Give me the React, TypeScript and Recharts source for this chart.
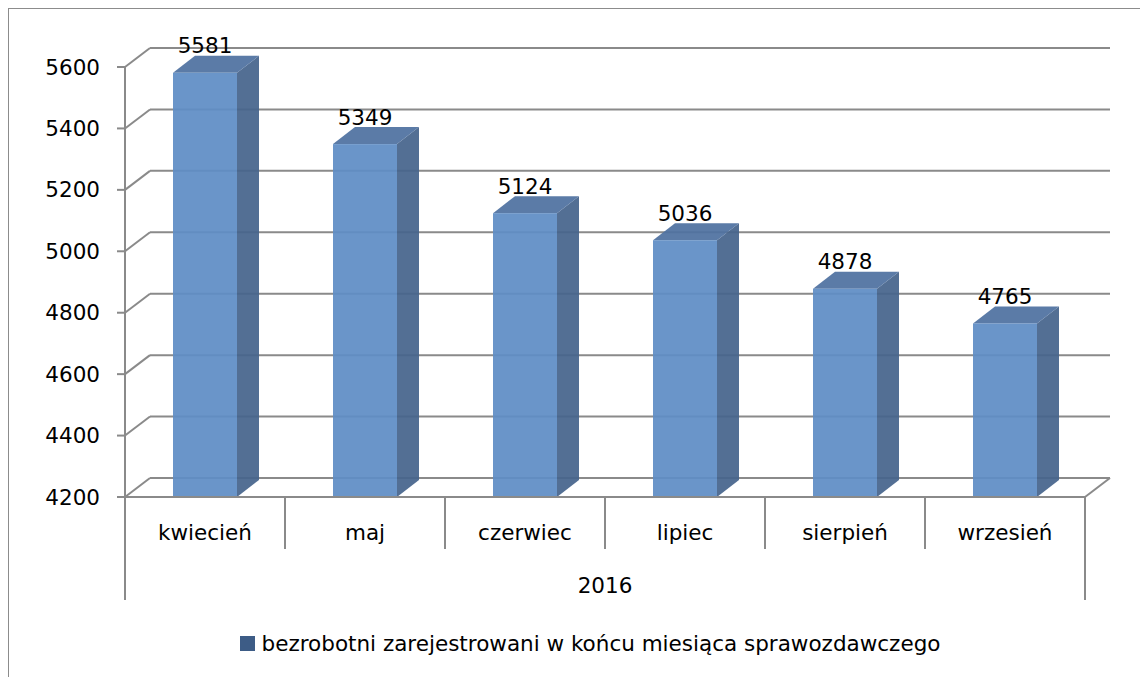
import React from 'react'
import { BarChart, Bar, XAxis, YAxis, CartesianGrid, LabelList, Legend } from 'recharts'

const months = ['kwiecień', 'maj', 'czerwiec', 'lipiec', 'sierpień', 'wrzesień']
const unemployed = [5581, 5349, 5124, 5036, 4878, 4765]
const yearLabel = '2016'
const yTicks = [4200, 4400, 4600, 4800, 5000, 5200, 5400, 5600]
const seriesName = 'bezrobotni zarejestrowani w końcu miesiąca sprawozdawczego'

const data = months.map((month, i) => ({ month, year: yearLabel, value: unemployed[i] }))

const W = 1150
const H = 680
const MARGIN = { top: 58, right: 74, bottom: 31, left: 10 }
const Y_AXIS_W = 106
const PLOT_W = W - MARGIN.left - MARGIN.right - Y_AXIS_W
const BAND = PLOT_W / months.length

// fake 3d depth of the walls and of the columns
const DEPTH_X = 25
const DEPTH_Y = -19
const BAR_DX = 22
const BAR_DY = -17

const GRID = '#8a8a8a'
const FRONT = '#5f8dc5'
const SIDE = '#46648c'
const TOP = '#4f71a0'
const FONT = '"DejaVu Sans", sans-serif'
const FS = 21.5

const gridLine = (p: any) => {
  const { x1, y1, x2, y2, y, height, index } = p
  const isFloor = Math.abs(y1 - (y + height)) < 0.5
  return (
    <g key={`grid-${index}`}>
      <line x1={x1} y1={y1} x2={x1 + DEPTH_X} y2={y1 + DEPTH_Y} stroke={GRID} strokeWidth={2} />
      <line x1={x1 + DEPTH_X} y1={y1 + DEPTH_Y} x2={x2 + DEPTH_X} y2={y2 + DEPTH_Y} stroke={GRID} strokeWidth={2} />
      {isFloor && (
        <line x1={x2} y1={y2} x2={x2 + DEPTH_X} y2={y2 + DEPTH_Y} stroke={GRID} strokeWidth={2} />
      )}
    </g>
  )
}

const Column = (p: any) => {
  const { x, y, width, height } = p
  const r = x + width
  const b = y + height
  return (
    <g fillOpacity={0.93}>
      <polygon
        points={`${r},${y} ${r + BAR_DX},${y + BAR_DY} ${r + BAR_DX},${b + BAR_DY} ${r},${b}`}
        fill={SIDE}
      />
      <polygon
        points={`${x},${y} ${x + BAR_DX},${y + BAR_DY} ${r + BAR_DX},${y + BAR_DY} ${r},${y}`}
        fill={TOP}
      />
      <rect x={x} y={y} width={width} height={height} fill={FRONT} />
    </g>
  )
}

const ValueLabel = (p: any) => {
  const { x, y, width, value } = p
  return (
    <text
      x={x + width / 2}
      y={y - 27}
      textAnchor="middle"
      dominantBaseline="central"
      fontFamily={FONT}
      fontSize={FS}
      fill="#000"
    >
      {value}
    </text>
  )
}

const MonthTick = (p: any) => {
  const { x, y, index, payload } = p
  const left = x - BAND / 2
  const right = x + BAND / 2
  const last = index === months.length - 1
  return (
    <g>
      <line x1={left} y1={y} x2={left} y2={y + (index === 0 ? 103 : 52)} stroke={GRID} strokeWidth={2} />
      {last && <line x1={right} y1={y} x2={right} y2={y + 103} stroke={GRID} strokeWidth={2} />}
      <text x={x} y={y + 35} textAnchor="middle" dominantBaseline="central" fontFamily={FONT} fontSize={FS} fill="#000">
        {payload.value}
      </text>
    </g>
  )
}

const YearTick = (p: any) => {
  const { x, y, payload } = p
  return (
    <text x={x} y={y + 28} textAnchor="middle" dominantBaseline="central" fontFamily={FONT} fontSize={FS} fill="#000">
      {payload.value}
    </text>
  )
}

const LegendBox = () => (
  <div
    style={{
      height: 30,
      display: 'flex',
      alignItems: 'center',
      justifyContent: 'center',
      fontFamily: FONT,
      fontSize: FS,
      color: '#000',
    }}
  >
    <span style={{ width: 15, height: 15, background: '#3d5c86', marginRight: 7, display: 'inline-block' }} />
    <span>{seriesName}</span>
  </div>
)

export default function App() {
  return (
    <div style={{ width: W, height: H, border: '1px solid #8c8c8c', background: '#fff' }}>
      <BarChart width={W} height={H} data={data} margin={MARGIN} barSize={64}>
        <CartesianGrid vertical={false} horizontal={gridLine} />
        <YAxis
          type="number"
          domain={[4200, 5600]}
          ticks={yTicks}
          width={Y_AXIS_W}
          tickSize={8}
          tickMargin={17}
          stroke={GRID}
          strokeWidth={2}
          tick={{ fill: '#000', fontSize: FS, fontFamily: FONT }}
          interval={0}
        />
        <XAxis
          dataKey="month"
          height={60}
          interval={0}
          tickLine={false}
          tickSize={0}
          tickMargin={0}
          stroke={GRID}
          strokeWidth={2}
          tick={MonthTick}
        />
        <XAxis
          xAxisId="year"
          dataKey="year"
          allowDuplicatedCategory={false}
          height={71}
          axisLine={false}
          tickLine={false}
          tickSize={0}
          tickMargin={0}
          tick={YearTick}
        />
        <Legend
          verticalAlign="bottom"
          content={LegendBox}
          wrapperStyle={{ left: 6, width: W, height: 30 }}
        />
        <Bar dataKey="value" name={seriesName} shape={Column} isAnimationActive={false}>
          <LabelList dataKey="value" content={ValueLabel} />
        </Bar>
      </BarChart>
    </div>
  )
}
